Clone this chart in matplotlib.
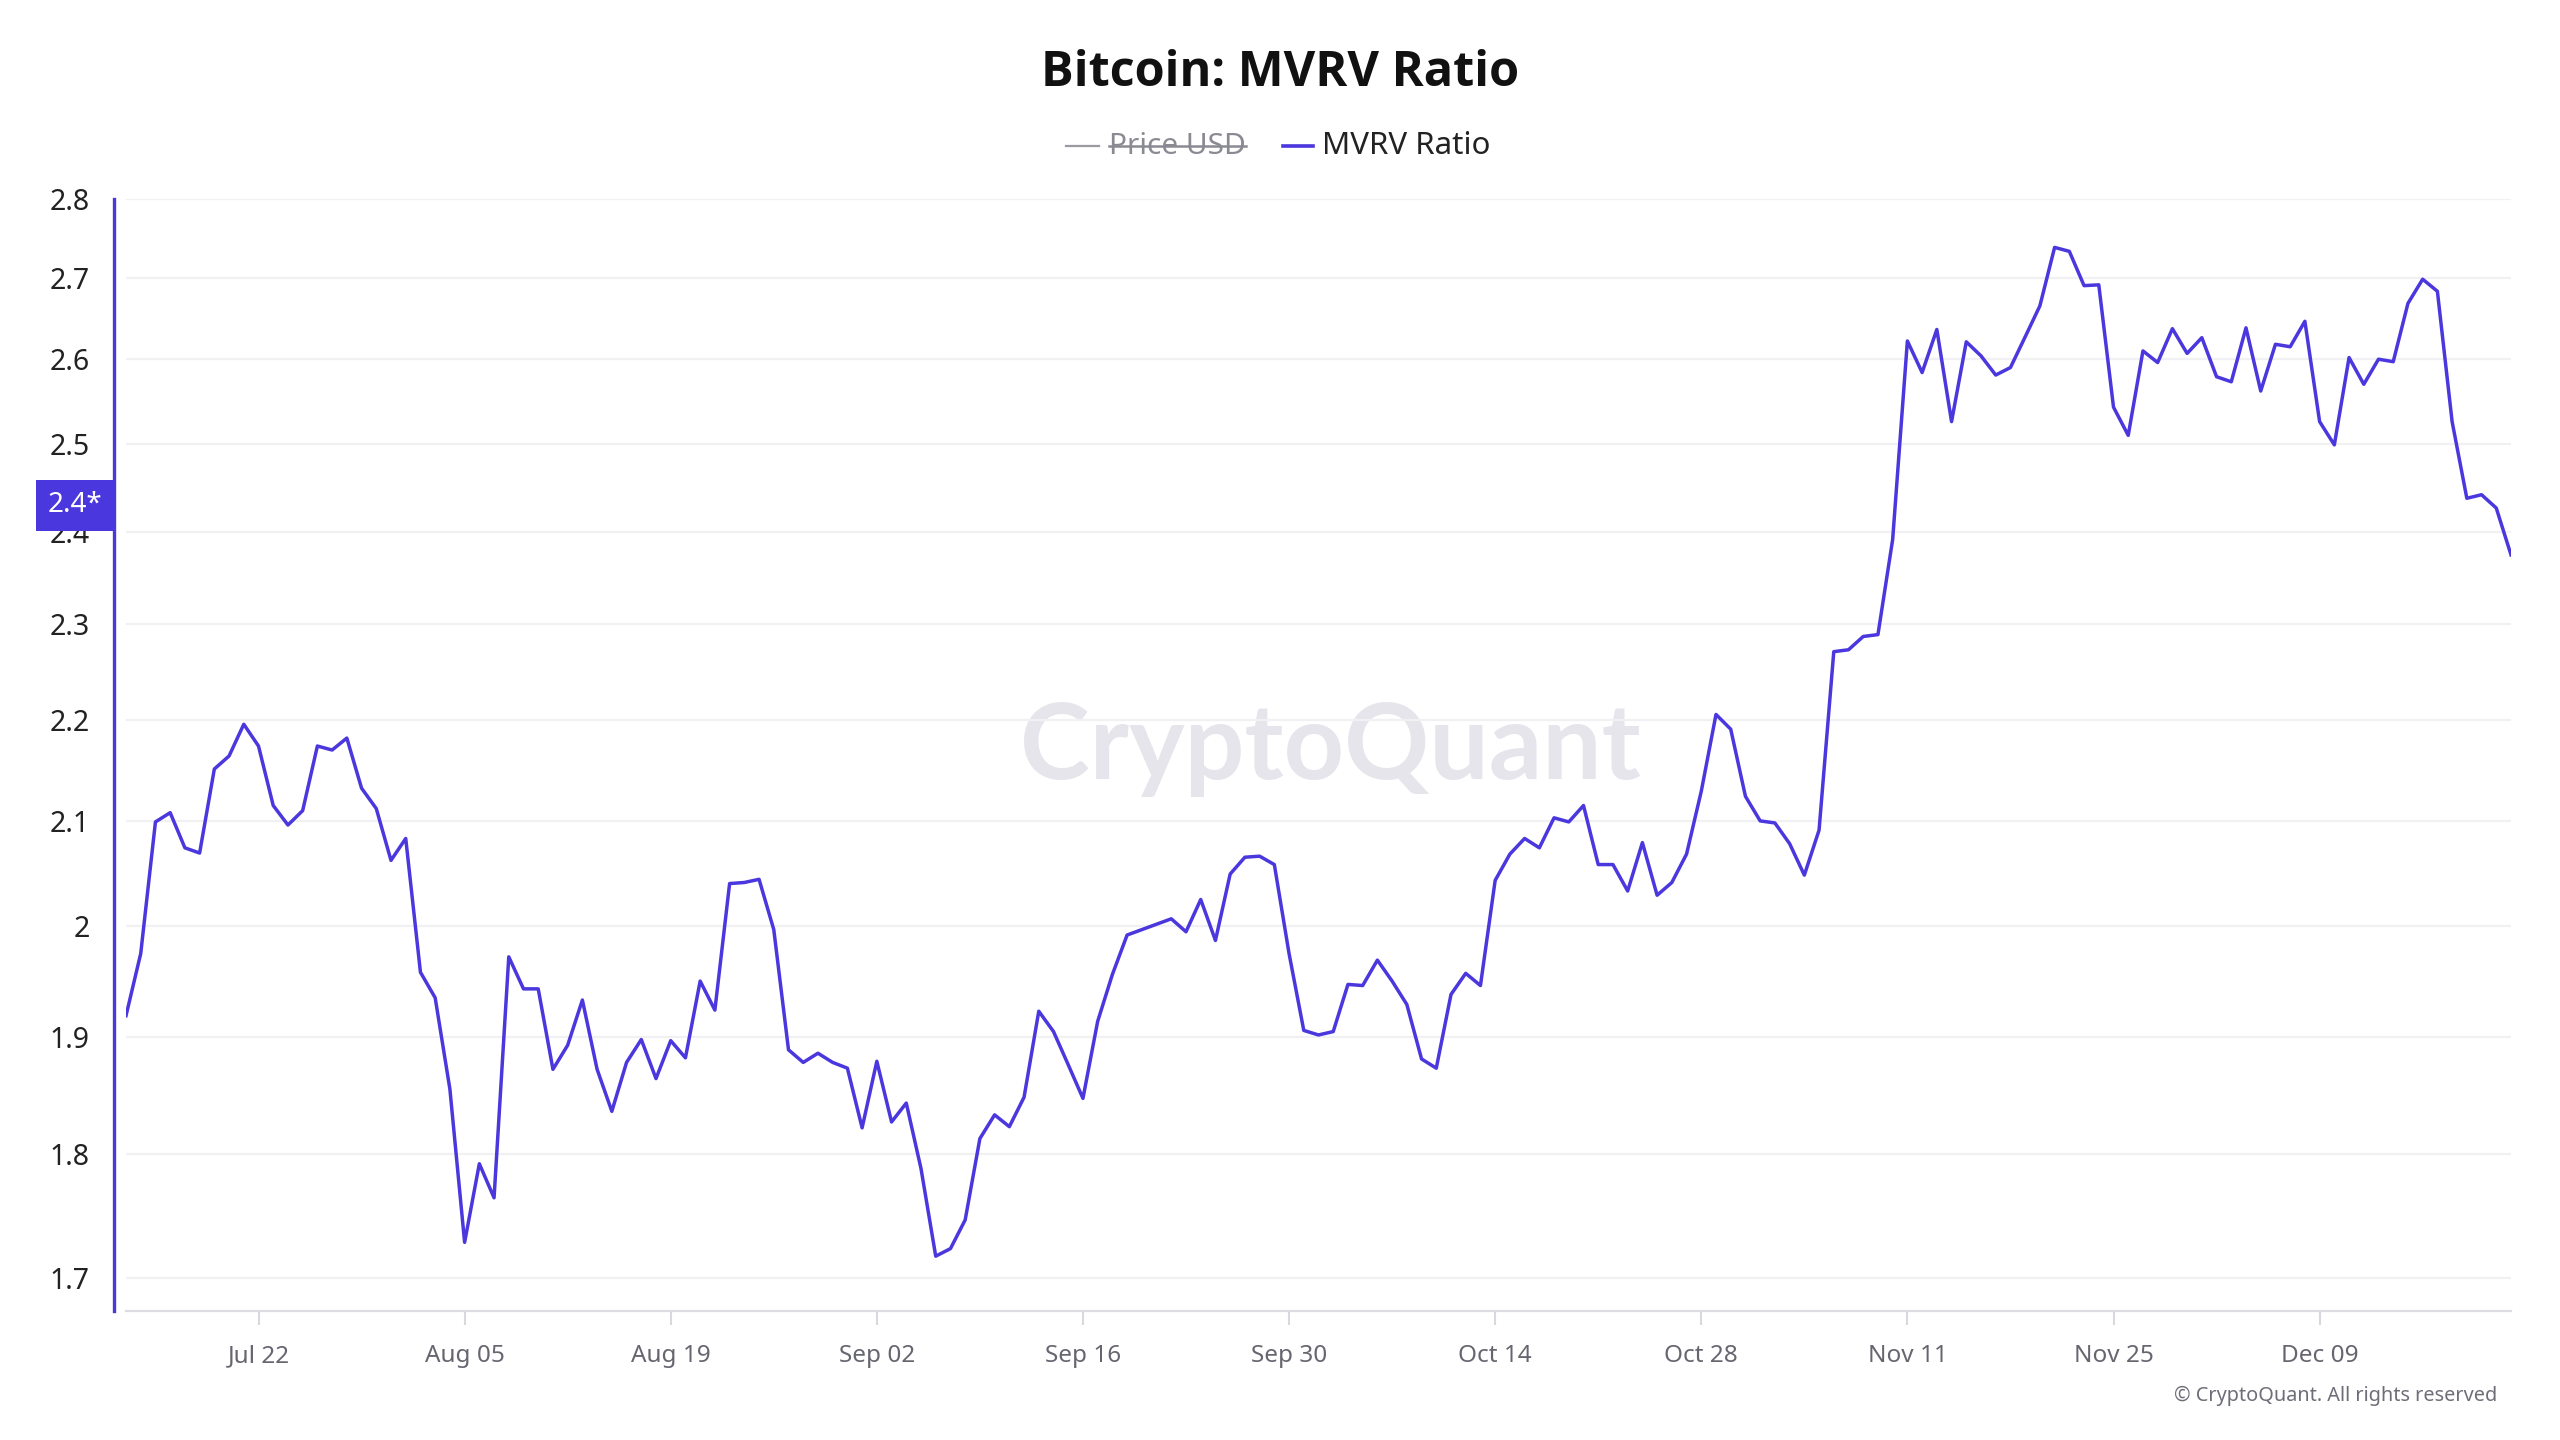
import matplotlib
matplotlib.use("Agg")
import matplotlib.pyplot as plt
import matplotlib.ticker as mticker
import matplotlib.transforms as mtransforms
from matplotlib.lines import Line2D
import pandas as pd

plt.rcParams['font.family'] = ['Noto Sans', 'DejaVu Sans']

# daily MVRV ratio (2024-07-13 .. 2024-12-22)
start_date = "2024-07-13"
mvrv = [
    1.919, 1.975, 2.099, 2.108, 2.074, 2.069, 2.151, 2.164, 2.196, 2.174,
    2.115, 2.096, 2.110, 2.174, 2.170, 2.182, 2.132, 2.112, 2.062, 2.083,
    1.958, 1.935, 1.855, 1.728, 1.792, 1.764, 1.972, 1.943, 1.943, 1.872,
    1.893, 1.933, 1.872, 1.836, 1.878, 1.898, 1.864, 1.897, 1.882, 1.950,
    1.924, 2.040, 2.041, 2.044, 1.997, 1.889, 1.878, 1.886, 1.878, 1.873,
    1.822, 1.879, 1.827, 1.843, 1.788, 1.717, 1.723, 1.746, 1.813, 1.833,
    1.823, 1.848, 1.923, 1.905, 1.876, 1.847, 1.914, 1.956, 1.992, 1.997,
    2.002, 2.007, 1.995, 2.025, 1.987, 2.049, 2.065, 2.066, 2.058, 1.975,
    1.906, 1.902, 1.905, 1.947, 1.946, 1.969, 1.950, 1.929, 1.881, 1.873,
    1.938, 1.957, 1.946, 2.043, 2.068, 2.083, 2.074, 2.103, 2.099, 2.115,
    2.058, 2.058, 2.033, 2.079, 2.029, 2.041, 2.068, 2.129, 2.206, 2.191,
    2.124, 2.100, 2.098, 2.078, 2.048, 2.091, 2.271, 2.273, 2.287, 2.289,
    2.392, 2.622, 2.584, 2.636, 2.526, 2.621, 2.604, 2.581, 2.590, 2.627,
    2.665, 2.738, 2.733, 2.690, 2.691, 2.543, 2.510, 2.610, 2.596, 2.637,
    2.607, 2.626, 2.579, 2.573, 2.638, 2.562, 2.618, 2.615, 2.646, 2.526,
    2.499, 2.602, 2.570, 2.600, 2.597, 2.668, 2.698, 2.683, 2.526, 2.438,
    2.442, 2.427, 2.375,
]
dates = pd.date_range(start_date, periods=len(mvrv), freq="D")

tick_dates = pd.date_range("2024-07-22", "2024-12-09", freq="14D")
y_ticks = [1.7, 1.8, 1.9, 2.0, 2.1, 2.2, 2.3, 2.4, 2.5, 2.6, 2.7, 2.8]
y_labels = ["1.7", "1.8", "1.9", "2", "2.1", "2.2", "2.3", "2.4", "2.5",
            "2.6", "2.7", "2.8"]
marker_value = 2.43
marker_label = "2.4*"

purple = "#4b37de"
W, H = 2560, 1440

fig = plt.figure(figsize=(25.6, 14.4), dpi=100)
fig.patch.set_facecolor("white")
ax = fig.add_axes([126 / W, 1 - 1311 / H, (2511 - 126) / W, (1311 - 199) / H])

ax.plot(dates, mvrv, color=purple, lw=2.5, zorder=3)

ax.set_yscale("log")
ax.set_ylim(1.674, 2.8)
ax.set_xlim(dates[0], dates[-1])
ax.yaxis.set_major_locator(mticker.FixedLocator(y_ticks))
ax.yaxis.set_major_formatter(mticker.FixedFormatter(y_labels))
ax.yaxis.set_minor_locator(mticker.NullLocator())
ax.yaxis.set_minor_formatter(mticker.NullFormatter())
ax.set_xticks(tick_dates)
ax.set_xticklabels([d.strftime("%b %d") for d in tick_dates])

ax.grid(axis="y", color="#f1f1f3", lw=1.6, zorder=0)
for s in ["top", "right"]:
    ax.spines[s].set_visible(False)
ax.spines["left"].set_position(("outward", 9))
ax.spines["left"].set_color(purple)
ax.spines["left"].set_linewidth(2.4)
ax.spines["bottom"].set_color("#dcdce2")
ax.spines["bottom"].set_linewidth(1.6)

ax.tick_params(axis="y", length=0, pad=17, labelsize=20.5, labelcolor="#222222")
ax.tick_params(axis="x", length=10, width=1.5, color="#d8d8de", pad=14,
               labelsize=17.5, labelcolor="#666670")

# watermark
ax.text(0.505, 0.505, "CryptoQuant", transform=ax.transAxes, ha="center",
        va="center", fontsize=76, color="#e6e5ec", fontweight="bold",
        family=["Lato", "DejaVu Sans"], zorder=1)

# current value box on the axis
trans = mtransforms.blended_transform_factory(ax.transAxes, ax.transData)
ax.annotate(marker_label, xy=(0, marker_value), xycoords=trans,
            xytext=(-17, 0), textcoords="offset points", ha="right",
            va="center", fontsize=20, color="white", zorder=10,
            annotation_clip=False,
            bbox=dict(boxstyle="square,pad=0.42", fc=purple, ec="none"))

# title
fig.text(0.5, 1 - 74 / H, "Bitcoin: MVRV Ratio", ha="center", va="center",
         fontsize=35, fontweight="bold", color="#111111",
         family=["Open Sans", "DejaVu Sans"])

# legend (hand drawn, price series hidden)
ly = 1 - 146 / H
fig.add_artist(Line2D([1066 / W, 1099 / W], [ly, ly], color="#9a9aa2", lw=1.6))
t_price = fig.text(1109 / W, ly, "Price USD", ha="left", va="center",
                   fontsize=21.5, color="#8a8a92")
fig.add_artist(Line2D([1283 / W, 1313 / W], [ly, ly], color=purple, lw=2.6))
fig.text(1322 / W, ly, "MVRV Ratio", ha="left", va="center", fontsize=22.5,
         color="#222222")

fig.canvas.draw()
bb = t_price.get_window_extent().transformed(fig.transFigure.inverted())
fig.add_artist(Line2D([bb.x0, bb.x1], [ly, ly], color="#8a8a92", lw=1.8))

fig.text(2497 / W, 1 - 1396 / H, "\u00a9 CryptoQuant. All rights reserved",
         ha="right", va="center", fontsize=14.3, color="#6e6e78")

fig.savefig("out.png", dpi=100, facecolor="white")
